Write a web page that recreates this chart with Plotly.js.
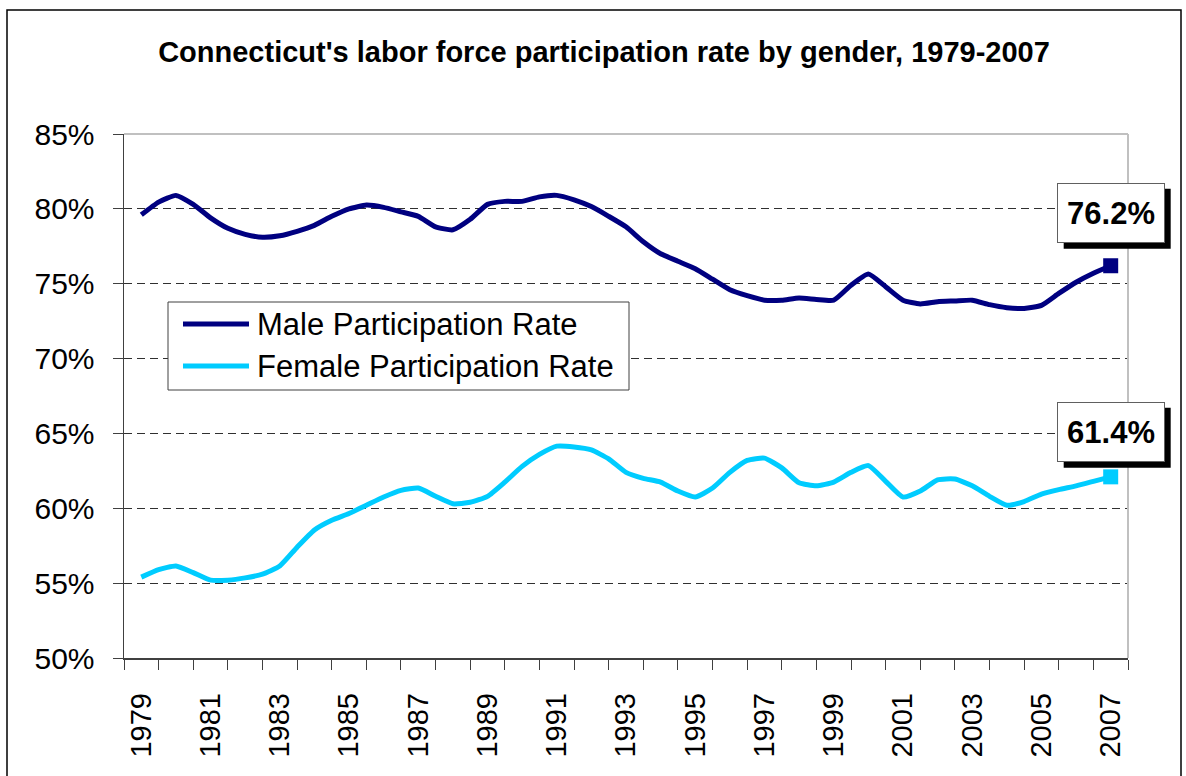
<!DOCTYPE html>
<html>
<head>
<meta charset="utf-8">
<script src="https://cdn.plot.ly/plotly-3.0.1.min.js"></script>
<style>
html,body{margin:0;padding:0;background:#fff;}
#chart{width:1186px;height:776px;}
</style>
</head>
<body>
<div id="chart"></div>
<script>
// Time points (half-year steps)
const periods = [1979.0,1979.5,1980.0,1980.5,1981.0,1981.5,1982.0,1982.5,1983.0,1983.5,
  1984.0,1984.5,1985.0,1985.5,1986.0,1986.5,1987.0,1987.5,1988.0,1988.5,
  1989.0,1989.5,1990.0,1990.5,1991.0,1991.5,1992.0,1992.5,1993.0,1993.5,
  1994.0,1994.5,1995.0,1995.5,1996.0,1996.5,1997.0,1997.5,1998.0,1998.5,
  1999.0,1999.5,2000.0,2000.5,2001.0,2001.5,2002.0,2002.5,2003.0,2003.5,
  2004.0,2004.5,2005.0,2005.5,2006.0,2006.5,2007.0];

const maleRate = [79.6,80.45,80.9,80.3,79.4,78.7,78.3,78.1,78.2,78.5,
  78.9,79.5,80.0,80.25,80.1,79.8,79.5,78.8,78.6,79.3,
  80.3,80.5,80.5,80.8,80.9,80.6,80.15,79.5,78.8,77.8,
  77.0,76.5,76.0,75.3,74.6,74.2,73.9,73.9,74.05,73.95,
  73.9,74.9,75.65,74.8,73.9,73.65,73.8,73.85,73.9,73.6,
  73.4,73.35,73.55,74.35,75.1,75.7,76.2];

const femaleRate = [55.4,55.9,56.15,55.7,55.2,55.2,55.35,55.6,56.15,57.4,
  58.55,59.2,59.65,60.2,60.75,61.2,61.35,60.8,60.3,60.4,
  60.8,61.75,62.8,63.6,64.15,64.1,63.9,63.3,62.4,62.0,
  61.75,61.15,60.75,61.35,62.4,63.2,63.35,62.7,61.7,61.5,
  61.75,62.4,62.85,61.8,60.75,61.15,61.9,61.95,61.5,60.8,
  60.2,60.45,60.95,61.25,61.5,61.8,62.1];

const seriesNames = ["Male Participation Rate", "Female Participation Rate"];
const endLabels = ["76.2%", "61.4%"];
const yearTicks = [1979,1981,1983,1985,1987,1989,1991,1993,1995,1997,1999,2001,2003,2005,2007];
const yTicks = [50,55,60,65,70,75,80,85];

const colors = ["#000080", "#00CCFF"];
const FONT = "Liberation Sans, Arial, sans-serif";
const last = periods.length - 1;
const allSeries = [maleRate, femaleRate];
const xRange = [1978.5, 2007.5];
const yRange = [50, 85];

const traces = [];
allSeries.forEach((s, i) => {
  traces.push({
    x: periods, y: s, type: "scatter", mode: "lines", name: seriesNames[i],
    line: {color: colors[i], width: 5, shape: "spline", smoothing: 0.5},
    showlegend: false, hoverinfo: "x+y"
  });
  traces.push({
    x: [periods[last]], y: [s[last]], type: "scatter", mode: "markers",
    marker: {symbol: "square", size: 15, color: colors[i]},
    showlegend: false, hoverinfo: "skip"
  });
});

// Layout geometry helpers (plot area in pixels: x 124..1128, y 134..658)
const L = 124, R = 1128, T = 134, B = 658;
const px = v => (v - L) / (R - L);
const py = v => (B - v) / (B - T);
// data -> paper fraction via the axis ranges
const dx = v => (v - xRange[0]) / (xRange[1] - xRange[0]);
const dy = v => (v - yRange[0]) / (yRange[1] - yRange[0]);

const shapes = [
  // outer chart border
  {type: "rect", xref: "paper", yref: "paper", x0: px(7), x1: px(1181), y0: py(790), y1: py(10),
   line: {color: "#000", width: 1.5}, fillcolor: "rgba(0,0,0,0)", layer: "below"},
  // top and right plot border (light gray)
  {type: "line", xref: "paper", yref: "paper", x0: 0, x1: 1, y0: 1, y1: 1, line: {color: "#c0c0c0", width: 2}},
  {type: "line", xref: "paper", yref: "paper", x0: 1, x1: 1, y0: 0, y1: 1, line: {color: "#c0c0c0", width: 2}},
  // legend box
  {type: "rect", xref: "paper", yref: "paper", x0: px(168), x1: px(629), y0: py(390), y1: py(302),
   line: {color: "#404040", width: 1}, fillcolor: "#fff"}
];
const legendY = [324, 366];
seriesNames.forEach((n, i) => {
  shapes.push({type: "line", xref: "paper", yref: "paper", x0: px(183), x1: px(249),
    y0: py(legendY[i]), y1: py(legendY[i]), line: {color: colors[i], width: 5}});
});

const annotations = [];
seriesNames.forEach((n, i) => {
  annotations.push({xref: "paper", yref: "paper", x: px(255), y: py(legendY[i]), xanchor: "left", yanchor: "middle",
    text: n, showarrow: false, font: {family: FONT, size: 31, color: "#000"}});
});
const labelShift = [53, 45];
allSeries.forEach((s, i) => {
  // drop shadow behind the label box (pixel-sized, anchored at the end point)
  shapes.push({type: "rect", xref: "paper", yref: "paper", xsizemode: "pixel", ysizemode: "pixel",
    xanchor: dx(periods[last]), yanchor: dy(s[last]),
    x0: -47, x1: 60, y0: labelShift[i] - 6 - 30, y1: labelShift[i] - 6 + 30,
    line: {width: 0}, fillcolor: "#000"});
  annotations.push({x: periods[last], y: s[last], xref: "x", yref: "y", text: "<b>" + endLabels[i] + "</b>", showarrow: false,
    yshift: labelShift[i], width: 102, height: 54, borderpad: 2, borderwidth: 1,
    bgcolor: "#fff", bordercolor: "#606060", font: {family: FONT, size: 31, color: "#000"}});
});

const layout = {
  width: 1186, height: 776,
  margin: {l: L, r: 1186 - R, t: T, b: 776 - B, pad: 0},
  paper_bgcolor: "#fff", plot_bgcolor: "#fff",
  font: {family: FONT, color: "#000"},
  title: {text: "<b>Connecticut's labor force participation rate by gender, 1979-2007</b>",
    x: 604 / 1186, xanchor: "center", xref: "container", y: 1 - 52 / 776, yanchor: "middle", yref: "container",
    font: {family: FONT, size: 29, color: "#000"}},
  xaxis: {
    range: xRange, tickmode: "array", tickvals: yearTicks, ticktext: yearTicks.map(String),
    tickangle: -90, ticks: "", showgrid: false, zeroline: false,
    showline: true, linecolor: "#404040", linewidth: 1.5,
    tickfont: {family: FONT, size: 29, color: "#000"}, ticklabelstandoff: 22,
    minor: {tick0: 1978.5, dtick: 1, ticks: "outside", ticklen: 10, tickcolor: "#404040", tickwidth: 1, showgrid: false}
  },
  yaxis: {
    range: yRange, tickmode: "array", tickvals: yTicks, ticktext: yTicks.map(v => v + "%"),
    ticks: "outside", ticklen: 10, tickcolor: "#404040", tickwidth: 1,
    showgrid: true, gridcolor: "#303030", gridwidth: 1, griddash: "8px,5px", zeroline: false,
    showline: true, linecolor: "#404040", linewidth: 1.5,
    tickfont: {family: FONT, size: 30, color: "#000"}, ticklabelstandoff: 12
  },
  shapes: shapes,
  annotations: annotations,
  showlegend: false
};

Plotly.newPlot("chart", traces, layout, {displayModeBar: false, staticPlot: true});
</script>
</body>
</html>
